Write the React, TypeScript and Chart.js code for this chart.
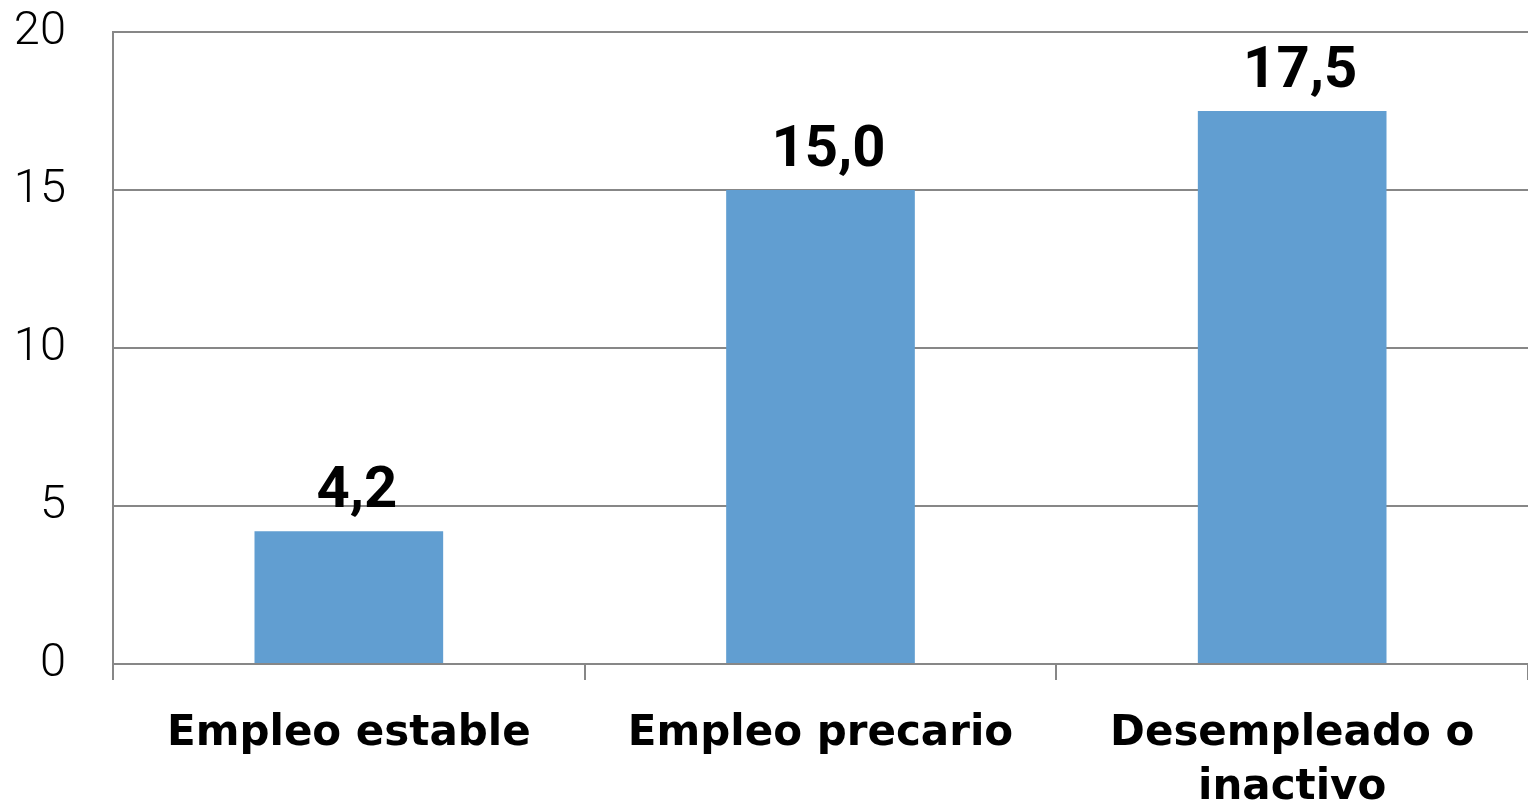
import React, { useEffect, useRef } from "react";
import { Chart, registerables } from "chart.js";

Chart.register(...registerables);

const categories: (string | string[])[] = [
  "Empleo estable",
  "Empleo precario",
  ["Desempleado o", "inactivo"],
];
const values: number[] = [4.2, 15.0, 17.5];
const yMin = 0;
const yMax = 20;
const yStep = 5;

const BAR_COLOR = "#619ED1";
const GRID_COLOR = "#878787";

const valueLabels = {
  id: "valueLabels",
  afterDatasetsDraw(chart: any) {
    const ctx = chart.ctx;
    const meta = chart.getDatasetMeta(0);
    ctx.save();
    ctx.font = "bold 58px Roboto";
    ctx.fillStyle = "#000000";
    ctx.textAlign = "center";
    ctx.textBaseline = "alphabetic";
    meta.data.forEach((bar: any, i: number) => {
      const v = chart.data.datasets[0].data[i] as number;
      const txt = v.toFixed(1).replace(".", ",");
      ctx.fillText(txt, bar.x + 8, bar.y - 24);
    });
    ctx.restore();
  },
};

export default function App() {
  const ref = useRef<HTMLCanvasElement | null>(null);
  useEffect(() => {
    if (!ref.current) return;
    const chart = new Chart(ref.current, {
      type: "bar",
      data: {
        labels: categories,
        datasets: [
          {
            data: values,
            backgroundColor: BAR_COLOR,
            borderWidth: 0,
            barPercentage: 1,
            categoryPercentage: 0.4,
          },
        ],
      },
      options: {
        animation: false,
        responsive: false,
        layout: { padding: { top: 32, right: 0, left: 0, bottom: 0 } },
        plugins: { legend: { display: false }, tooltip: { enabled: false } },
        scales: {
          x: {
            grid: {
              offset: true,
              drawOnChartArea: false,
              drawTicks: true,
              tickLength: 16,
              color: GRID_COLOR,
              lineWidth: 2,
            },
            border: { display: true, color: GRID_COLOR, width: 2 },
            ticks: {
              color: "#000000",
              font: { family: "DejaVu Sans", size: 42, weight: "bold", lineHeight: 1.28 },
              padding: 27,
              maxRotation: 0,
              autoSkip: false,
            },
            afterFit(scale: any) {
              scale.height = 144;
            },
          },
          y: {
            min: yMin,
            max: yMax,
            ticks: {
              stepSize: yStep,
              color: "#000000",
              font: { family: "Roboto", size: 47, weight: "300" },
              padding: 47,
            },
            grid: {
              drawTicks: false,
              color: GRID_COLOR,
              lineWidth: 2,
            },
            border: { display: true, color: GRID_COLOR, width: 2 },
            afterFit(scale: any) {
              scale.width = 113;
              scale.paddingTop = 0;
              scale.paddingBottom = 0;
            },
          },
        },
      },
      plugins: [valueLabels],
    });
    return () => chart.destroy();
  }, []);
  return (
    <div
      style={{
        position: "fixed",
        left: 0,
        top: 0,
        width: 1528,
        height: 808,
        overflow: "hidden",
        background: "#ffffff",
      }}
    >
      <canvas ref={ref} width={1528} height={808} style={{ display: "block" }} />
    </div>
  );
}
